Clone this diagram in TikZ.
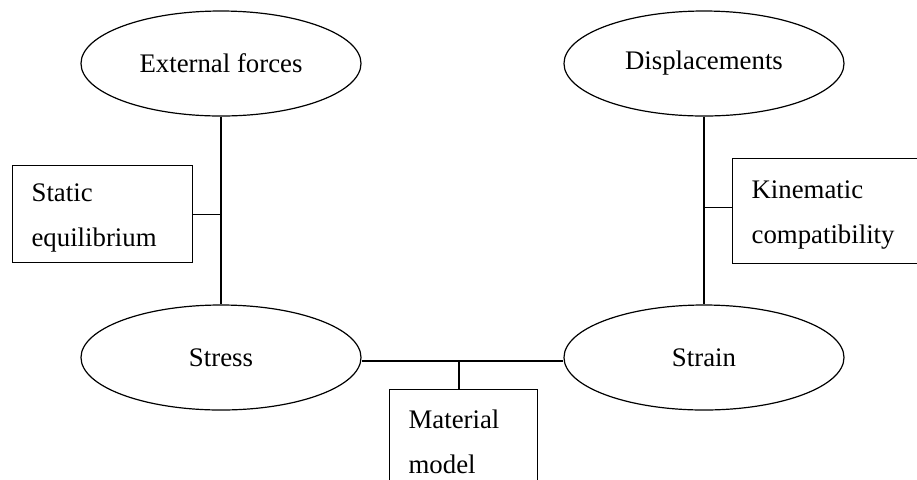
\documentclass[tikz,border=0pt]{standalone}
\usepackage{fontspec}
\setmainfont{Liberation Serif}
\usetikzlibrary{shapes.geometric}
\tikzstyle{entity} = [ellipse, draw=black, line width=0.6pt, minimum width=140pt, minimum height=52.5pt, inner sep=0pt, font=\fontsize{13.4}{22.5}\selectfont]
\tikzstyle{law} = [rectangle, draw=black, line width=0.6pt, anchor=north west, align=left, inner xsep=9.5pt, inner ysep=0pt, text height=13pt, font=\fontsize{13.4}{22.5}\selectfont]
\tikzstyle{link} = [line width=0.6pt]
\begin{document}
\begin{tikzpicture}[x=0.5pt, y=-0.5pt]
\useasboundingbox (0,0) rectangle (917,479);

% Nodes
\node (ext) [entity] at (221,63.5) {External forces};
\node (disp) [entity] at (704,63.5) {Displacements};
\node (stress) [entity] at (221,357.5) {Stress};
\node (strain) [entity] at (704,357.5) {Strain};

\node (static) [law, text width=71pt, minimum height=48.5pt] at (12,165) {Static\\equilibrium};
\node (kin) [law, text width=77.5pt, minimum height=52.5pt] at (732,158) {Kinematic\\compatibility};
\node (mat) [law, text width=55pt, minimum height=48.5pt] at (389,389) {Material\\model};

% Lines
\draw [link] (ext) -- (stress);
\draw [link] (disp) -- (strain);
\draw [link] (static.east) -- (static.east -| ext.south);
\draw [link] ([yshift=2pt]kin.west) -- ([yshift=2pt]kin.west -| disp.south);
\draw [link] ([yshift=-1.75pt]stress.east) -- ([yshift=-1.75pt]strain.west);
\coordinate (mjoin) at (459,361);
\draw [link] (mjoin) -- (mjoin |- mat.north);

\end{tikzpicture}
\end{document}
